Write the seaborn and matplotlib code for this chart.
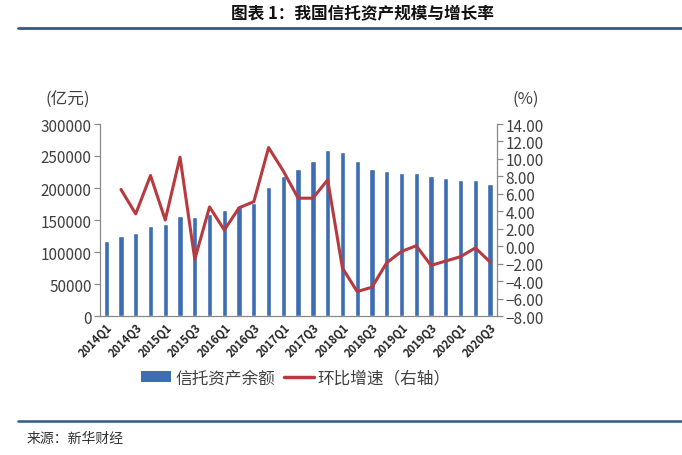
import numpy as np
import pandas as pd
import matplotlib
matplotlib.use("Agg")
import matplotlib.pyplot as plt
import seaborn as sns
from matplotlib.patches import Patch
from matplotlib.lines import Line2D

# ---- data ----
quarters = ["2014Q1", "2014Q2", "2014Q3", "2014Q4",
            "2015Q1", "2015Q2", "2015Q3", "2015Q4",
            "2016Q1", "2016Q2", "2016Q3", "2016Q4",
            "2017Q1", "2017Q2", "2017Q3", "2017Q4",
            "2018Q1", "2018Q2", "2018Q3", "2018Q4",
            "2019Q1", "2019Q2", "2019Q3", "2019Q4",
            "2020Q1", "2020Q2", "2020Q3"]
assets = [117000, 124500, 129500, 140000,
          143500, 157000, 155000, 160000,
          165500, 171500, 177000, 201500,
          218000, 229500, 242000, 260000,
          255500, 241500, 229500, 226000,
          224000, 224000, 218500, 215000,
          212500, 212500, 207000]
growth = [np.nan, 6.5, 3.7, 8.1,
          3.0, 10.2, -1.5, 4.5,
          1.85, 4.4, 5.1, 11.3,
          8.6, 5.5, 5.5, 7.6,
          -2.5, -5.2, -4.7, -1.9,
          -0.6, 0.05, -2.2, -1.7,
          -1.2, -0.2, -1.8]
left_ticks = [0, 50000, 100000, 150000, 200000, 250000, 300000]
right_ticks = [-8, -6, -4, -2, 0, 2, 4, 6, 8, 10, 12, 14]
legend_labels = ["信托资产余额", "环比增速（右轴）"]
title = "图表 1：我国信托资产规模与增长率"
source = "来源：新华财经"

BAR = "#3D6DB3"
RED = "#B73A40"
NAVY = "#2F5B8C"
GREY = "#8A8A8A"
TXT = "#404040"

sns.set_theme(style="white")
plt.rcParams["font.family"] = ["Noto Sans CJK SC", "DejaVu Sans"]
plt.rcParams["axes.unicode_minus"] = True

W, H = 682, 456
fig = plt.figure(figsize=(W / 100, H / 100), dpi=100)
ax = fig.add_axes([100 / W, 1 - 317 / H, 397 / W, 192 / H])

df = pd.DataFrame({"quarter": quarters, "assets": assets, "growth": growth})
df["pos"] = np.arange(len(df))

sns.barplot(data=df, x="quarter", y="assets", color=BAR, saturation=1,
            width=0.36, ax=ax)
ax2 = ax.twinx()
sns.lineplot(data=df, x="pos", y="growth", color=RED, linewidth=2.2, ax=ax2)

ax.set_xlim(-0.42, len(quarters) - 1 + 0.47)
ax2.set_xlim(-0.42, len(quarters) - 1 + 0.47)
ax.set_ylim(0, 300000)
ax2.set_ylim(-8, 14)

ax.set_yticks(left_ticks)
ax.set_yticklabels([str(v) for v in left_ticks])
ax2.set_yticks(right_ticks)
ax2.set_yticklabels([f"{v:.2f}".replace("-", "\u2212") for v in right_ticks])

ax.set_xticks(list(range(0, len(quarters), 2)))
ax.set_xticklabels(quarters[::2], rotation=45, ha="right",
                   rotation_mode="anchor", fontsize=8, color="#262626",
                   fontweight="bold")

for a in (ax, ax2):
    a.set_xlabel("")
    a.set_ylabel("")
    a.grid(False)
    for s in a.spines.values():
        s.set_color(GREY)
        s.set_linewidth(0.9)
    a.spines["top"].set_visible(False)

ax.spines["right"].set_visible(False)
ax2.spines["left"].set_visible(False)
ax2.spines["bottom"].set_visible(False)

ax.tick_params(axis="y", direction="out", length=4, width=0.9, color=GREY,
               labelsize=11, labelcolor=TXT, pad=2, left=True)
ax.tick_params(axis="x", length=0, pad=3)
ax2.tick_params(axis="y", direction="out", length=4, width=0.9, color=GREY,
                labelsize=11, labelcolor=TXT, pad=2, right=True)

# unit labels
fig.text(68 / W, 1 - 100 / H, "(亿元)", ha="center", va="center",
         fontsize=12, color=TXT)
fig.text(526 / W, 1 - 99 / H, "(%)", ha="center", va="center",
         fontsize=12, color=TXT)

# title and rules
fig.text(362 / W, 1 - 14 / H, title, ha="center", va="center",
         fontsize=12, color="#111111", fontweight="bold")
fig.add_artist(Line2D([18 / W, 1], [1 - 29 / H, 1 - 29 / H],
                      transform=fig.transFigure, color=NAVY, linewidth=2))
fig.add_artist(Line2D([18 / W, 1], [1 - 422 / H, 1 - 422 / H],
                      transform=fig.transFigure, color=NAVY, linewidth=1.8))
fig.text(27 / W, 1 - 439 / H, source, ha="left", va="center",
         fontsize=10, color="#333333")

# legend
handles = [Patch(facecolor=BAR, edgecolor="none"),
           Line2D([0], [0], color=RED, linewidth=2.5)]
fig.legend(handles, legend_labels, loc="center",
           bbox_to_anchor=(296 / W, 1 - 379 / H), ncol=2, frameon=False,
           fontsize=12, handlelength=1.8, handleheight=0.6,
           columnspacing=0.5, handletextpad=0.25, labelcolor=TXT)

fig.savefig("out.png", dpi=100)
